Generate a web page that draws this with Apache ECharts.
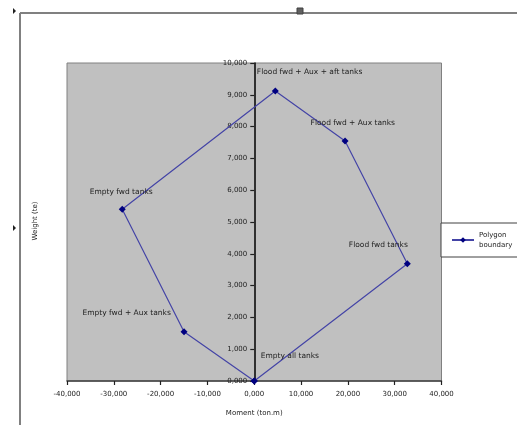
<!DOCTYPE html>
<html>
<head>
<meta charset="utf-8">
<script src="https://cdn.jsdelivr.net/npm/echarts@6/dist/echarts.min.js"></script>
<style>
html,body{margin:0;padding:0;background:#fff;}
#chart{width:517px;height:425px;}
</style>
</head>
<body>
<div id="chart"></div>
<script>
// Data
var pointNames = ['Empty all tanks', 'Empty fwd + Aux tanks', 'Empty fwd tanks', 'Flood fwd + Aux + aft tanks', 'Flood fwd + Aux tanks', 'Flood fwd tanks', ''];
var moments = [0, -15000, -28200, 4500, 19400, 32700, 0];
var weights = [0, 1550, 5400, 9120, 7550, 3690, 0];
var xTicks = [-40000, -30000, -20000, -10000, 0, 10000, 20000, 30000, 40000];
var yTicks = [0, 1000, 2000, 3000, 4000, 5000, 6000, 7000, 8000, 9000, 10000];
var seriesName = 'Polygon boundary';

// label placement offsets (style only)
var labelPos = [[10, -21], [-98, -15], [-29, -14], [-15, -15], [-31, -14], [-55, -15], [0, 0]];

function fmt(v) {
  var s = v < 0 ? '-' : '';
  var a = Math.abs(v);
  var th = Math.floor(a / 1000);
  var r = String(Math.round(a % 1000));
  while (r.length < 3) r = '0' + r;
  return s + th + ',' + r;
}

var data = moments.map(function (m, i) {
  return {
    value: [m, weights[i]],
    name: pointNames[i],
    label: {
      show: pointNames[i] !== '',
      position: labelPos[i],
      align: 'left',
      verticalAlign: 'middle'
    }
  };
});

var gridLeft = 67, gridRight = 75.5;
var plotW = 517 - gridLeft - gridRight;
var zeroOffset = -plotW * (0 - xTicks[0]) / (xTicks[xTicks.length - 1] - xTicks[0]);

var chart = echarts.init(document.getElementById('chart'), null, {renderer: 'canvas'});
var tickFont = {fontFamily: 'DejaVu Sans', fontSize: 7, color: '#222'};
chart.setOption({
  animation: false,
  backgroundColor: '#fff',
  grid: {
    left: gridLeft, right: gridRight, top: 63, bottom: 44,
    show: true, backgroundColor: '#c0c0c0', borderColor: '#808080', borderWidth: 1
  },
  xAxis: {
    type: 'value',
    min: xTicks[0], max: xTicks[xTicks.length - 1], interval: 10000,
    name: 'Moment (ton.m)', nameLocation: 'middle', nameGap: 29,
    nameTextStyle: {fontFamily: 'DejaVu Sans', fontSize: 7, color: '#222'},
    axisLine: {onZero: false, lineStyle: {color: '#404040', width: 1.5}},
    axisTick: {show: true, length: 4, inside: false, lineStyle: {color: '#202020', width: 1.2}},
    axisLabel: Object.assign({margin: 10, formatter: fmt}, tickFont),
    splitLine: {show: false}
  },
  yAxis: {
    type: 'value',
    position: 'left',
    offset: zeroOffset,
    min: yTicks[0], max: yTicks[yTicks.length - 1], interval: 1000,
    axisLine: {onZero: false, lineStyle: {color: '#000', width: 1.5}},
    axisTick: {show: true, length: 4, lineStyle: {color: '#202020', width: 1.2}},
    axisLabel: Object.assign({margin: 7, formatter: fmt}, tickFont),
    splitLine: {show: false}
  },
  legend: {
    left: 441, top: 223,
    orient: 'vertical',
    backgroundColor: '#fff',
    borderColor: '#404040', borderWidth: 1,
    padding: [7, 50, 7, 10],
    itemWidth: 22, itemHeight: 7, itemGap: 4,
    textStyle: {fontFamily: 'DejaVu Sans', fontSize: 7, color: '#222', lineHeight: 10},
    formatter: function () { return 'Polygon\nboundary'; },
    data: [seriesName]
  },
  series: [{
    name: seriesName,
    type: 'line',
    data: data,
    symbol: 'diamond',
    symbolSize: 7,
    lineStyle: {color: '#4444a6', width: 1.2},
    itemStyle: {color: '#000080'},
    label: {
      fontFamily: 'DejaVu Sans', fontSize: 7.5, color: '#222',
      formatter: function (p) { return p.name; }
    },
    z: 3
  }],
  graphic: [
    {type: 'line', shape: {x1: 20, y1: 13, x2: 517, y2: 13}, style: {stroke: '#808080', lineWidth: 2}},
    {type: 'line', shape: {x1: 20, y1: 13, x2: 20, y2: 425}, style: {stroke: '#808080', lineWidth: 2}},
    {type: 'rect', shape: {x: 297, y: 8, width: 6, height: 6}, style: {fill: '#606060', stroke: '#404040', lineWidth: 1}},
    {type: 'polygon', shape: {points: [[13, 8], [16, 11], [13, 14]]}, style: {fill: '#202020'}},
    {type: 'polygon', shape: {points: [[13, 225], [16, 228], [13, 231]]}, style: {fill: '#202020'}},
    {type: 'text', rotation: Math.PI / 2,
     style: {text: 'Weight (te)', font: '7px "DejaVu Sans"', fill: '#222', align: 'center', verticalAlign: 'middle'},
     x: 35, y: 221}
  ]
});
</script>
</body>
</html>
